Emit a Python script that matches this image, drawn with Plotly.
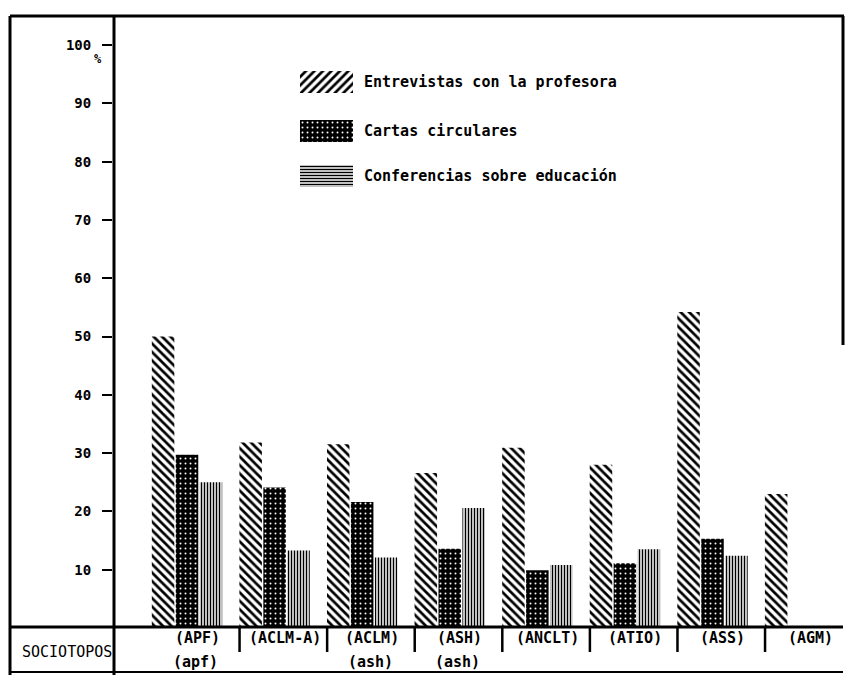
import plotly.graph_objects as go

# --- data -------------------------------------------------------------
categories = ["APF", "ACLM-A", "ACLM", "ASH", "ANCLT", "ATIO", "ASS", "AGM"]
labels_top = ["(APF)", "(ACLM-A)", "(ACLM)", "(ASH)", "(ANCLT)", "(ATIO)", "(ASS)", "(AGM)"]
labels_bottom = ["(apf)", "", "(ash)", "(ash)", "", "", "", ""]

series_names = [
    "Entrevistas con la profesora",
    "Cartas circulares",
    "Conferencias sobre educación",
]
entrevistas = [50.0, 31.8, 31.5, 26.6, 30.9, 28.0, 54.2, 23.0]
cartas = [29.7, 24.1, 21.6, 13.6, 9.9, 11.1, 15.3, None]
conferencias = [25.0, 13.3, 12.1, 20.6, 10.8, 13.5, 12.4, None]

y_ticks = [10, 20, 30, 40, 50, 60, 70, 80, 90, 100]

# --- geometry helpers (figure is 846 x 675 px) -------------------------
W, H = 846, 675
ML, MR, MT, MB = 113, 3, 16, 47
PW, PH = W - ML - MR, H - MT - MB


def px(xp):
    return (xp - ML) / PW


def py(yp):
    return (H - MB - yp) / PH


MONO = "DejaVu Sans Mono"

bar_styles = [
    dict(shape="\\", bgcolor="white", fgcolor="black", size=6, solidity=0.45),
    dict(shape=".", bgcolor="black", fgcolor="white", size=5, solidity=0.12),
    dict(shape="|", bgcolor="white", fgcolor="black", size=3, solidity=0.5),
]
key_styles = [
    dict(shape="/", bgcolor="white", fgcolor="black", size=6, solidity=0.45),
    dict(shape=".", bgcolor="black", fgcolor="white", size=5, solidity=0.12),
    dict(shape="-", bgcolor="white", fgcolor="black", size=3, solidity=0.5),
]


def marker_for(st):
    return dict(color=st["bgcolor"], line=dict(width=0),
                pattern=dict(shape=st["shape"], bgcolor=st["bgcolor"],
                             fgcolor=st["fgcolor"], size=st["size"],
                             solidity=st["solidity"], fillmode="replace"))


fig = go.Figure()
for name, vals, st in zip(series_names, [entrevistas, cartas, conferencias], bar_styles):
    fig.add_trace(go.Bar(x=categories, y=vals, name=name, showlegend=False,
                         marker=marker_for(st)))

# key swatches drawn as horizontal bars on a small helper axis pair
key_rows = [82, 131, 176]
for name, yr, st in zip(series_names, key_rows, key_styles):
    fig.add_trace(go.Bar(
        x=[1], y=[yr], orientation="h", width=22, offsetgroup="key",
        xaxis="x2", yaxis="y2", showlegend=False, hoverinfo="skip",
        name=name, marker=marker_for(st)))

annotations = []
for name, yr in zip(series_names, key_rows):
    annotations.append(dict(
        text=name, xref="paper", yref="paper", x=px(362), y=py(yr),
        xanchor="left", yanchor="middle", showarrow=False,
        font=dict(family=MONO, size=15, color="black", weight="bold")))

# category labels in the table row under the chart
for cat, top, bot in zip(categories, labels_top, labels_bottom):
    annotations.append(dict(
        text=top, xref="x", yref="paper", x=cat, y=py(638), xshift=10,
        xanchor="center", yanchor="middle", showarrow=False,
        font=dict(family=MONO, size=15, color="black", weight="bold")))
    if bot:
        annotations.append(dict(
            text=bot, xref="x", yref="paper", x=cat, y=py(662), xshift=8,
            xanchor="center", yanchor="middle", showarrow=False,
            font=dict(family=MONO, size=15, color="black", weight="bold")))

annotations.append(dict(
    text="SOCIOTOPOS", xref="paper", yref="paper", x=px(67), y=py(652),
    xanchor="center", yanchor="middle", showarrow=False,
    font=dict(family=MONO, size=15, color="black")))
annotations.append(dict(
    text="%", xref="paper", yref="paper", x=px(98), y=py(59),
    xanchor="center", yanchor="middle", showarrow=False,
    font=dict(family=MONO, size=12, color="black", weight="bold")))

line_k = dict(color="black", width=3)
shapes = [
    # outer frame
    dict(type="line", xref="paper", yref="paper", x0=px(10), x1=px(10), y0=py(16), y1=py(675), line=line_k),
    dict(type="line", xref="paper", yref="paper", x0=px(10), x1=px(844), y0=py(16), y1=py(16), line=line_k),
    dict(type="line", xref="paper", yref="paper", x0=px(843), x1=px(843), y0=py(16), y1=py(345), line=line_k),
    # value axis continuing down through the table
    dict(type="line", xref="paper", yref="paper", x0=px(114), x1=px(114), y0=py(16), y1=py(675), line=line_k),
    # baseline and table bottom
    dict(type="line", xref="paper", yref="paper", x0=px(10), x1=px(843), y0=py(627), y1=py(627), line=line_k),
    dict(type="line", xref="paper", yref="paper", x0=px(10), x1=px(843), y0=py(672), y1=py(672),
         line=dict(color="black", width=2)),
]
# short dividers between category cells
for i in range(len(categories) - 1):
    shapes.append(dict(type="line", xref="x", yref="paper", x0=i + 0.6, x1=i + 0.6,
                       y0=py(628), y1=py(652), line=dict(color="black", width=2.5)))

fig.update_layout(
    width=W, height=H,
    margin=dict(l=ML, r=MR, t=MT, b=MB),
    paper_bgcolor="white", plot_bgcolor="white",
    barmode="group", bargap=0.18, bargroupgap=0.06,
    font=dict(family=MONO, color="black"),
    xaxis=dict(range=[-0.845, 7.49], showticklabels=False, ticks="",
               showline=False, showgrid=False, zeroline=False, fixedrange=True),
    yaxis=dict(range=[0, PH / 5.83], tickvals=y_ticks,
               ticktext=[str(v) for v in y_ticks],
               ticks="outside", ticklen=10, tickwidth=2, tickcolor="black",
               ticklabelstandoff=8,
               tickfont=dict(family=MONO, size=14, color="black", weight="bold"),
               showline=False, showgrid=False, zeroline=False),
    xaxis2=dict(domain=[px(300), px(353)], range=[0, 1], anchor="y2", visible=False),
    yaxis2=dict(domain=[py(200), py(60)], range=[200, 60], anchor="x2", visible=False),
    annotations=annotations,
    shapes=shapes,
    showlegend=False,
)

fig.write_html("out.html")
